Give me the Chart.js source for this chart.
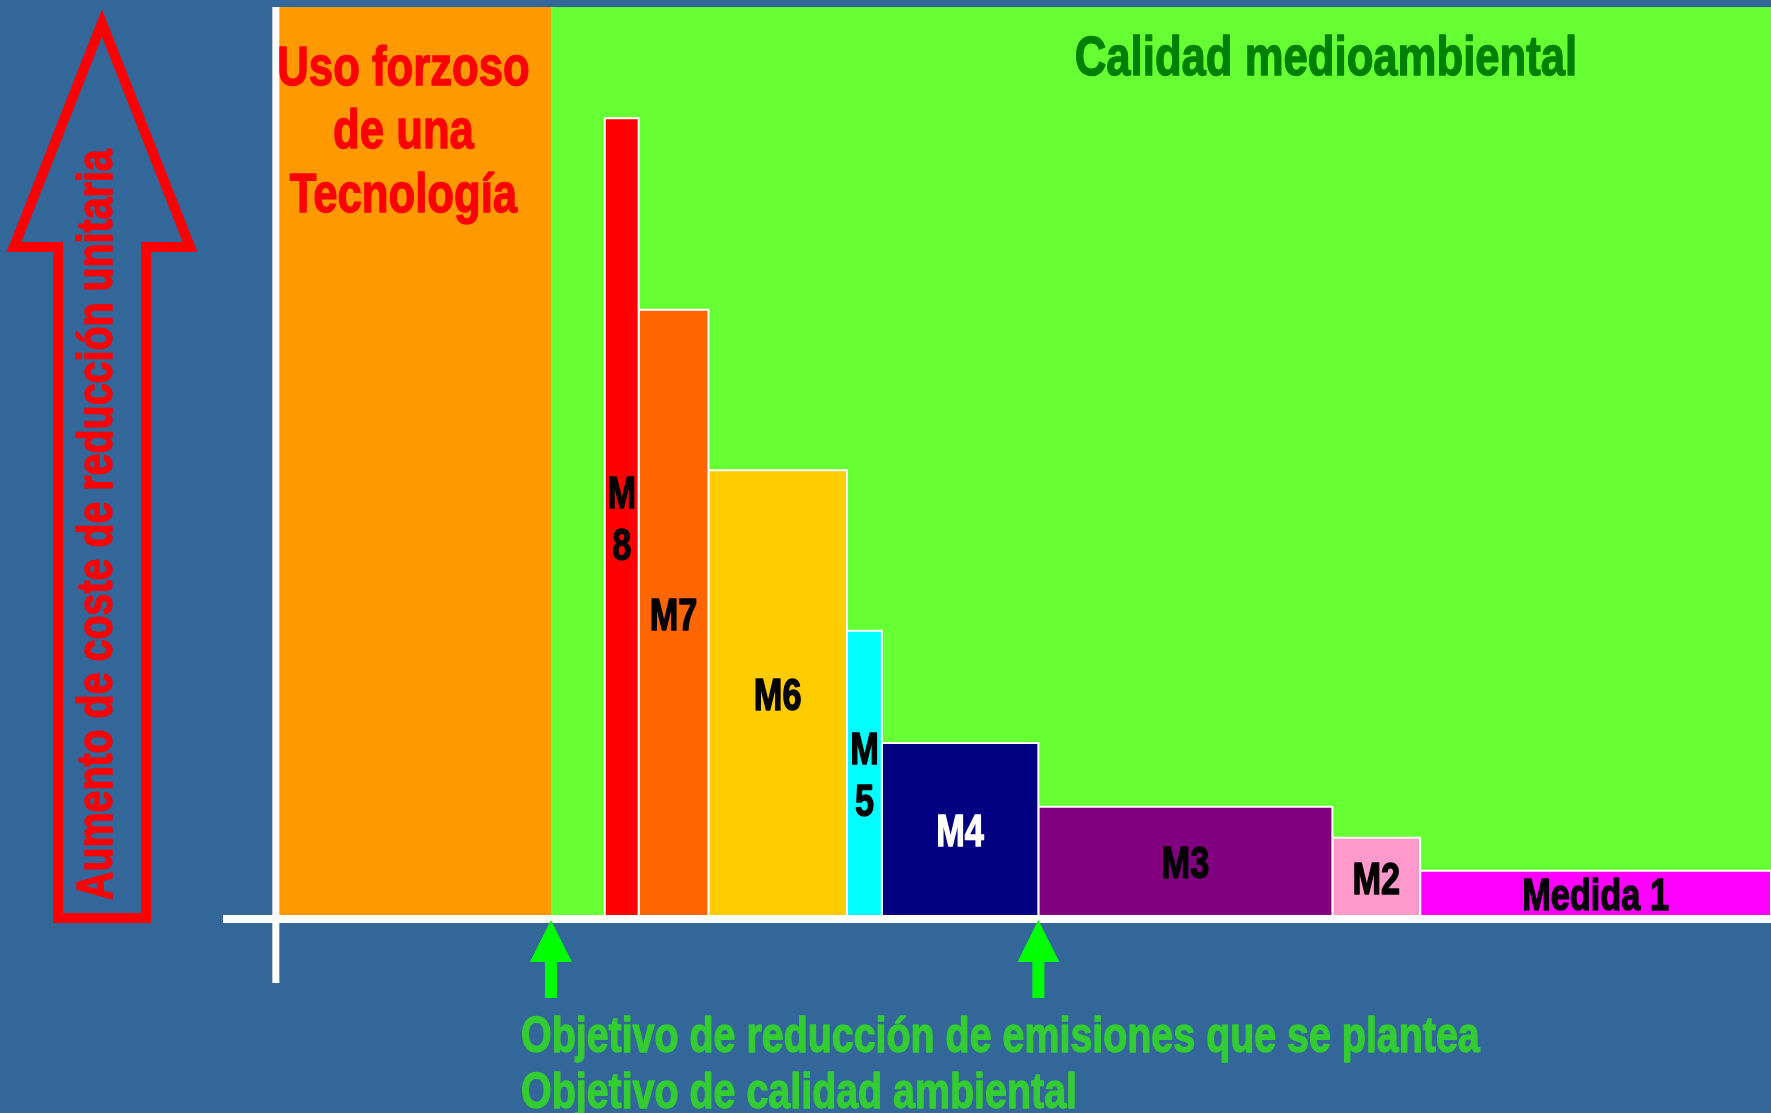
<!DOCTYPE html>
<html>
<head>
<meta charset="utf-8">
<script src="https://cdn.jsdelivr.net/npm/chart.js@4.4.1/dist/chart.umd.min.js"></script>
<style>
  html, body { margin: 0; padding: 0; background: #336699; }
  canvas { display: block; }
</style>
</head>
<body>
<canvas id="chart" width="1771" height="1113"></canvas>
<script>
// --- datos: medidas de izquierda a derecha ---
const measures = ['M8', 'M7', 'M6', 'M5', 'M4', 'M3', 'M2', 'Medida 1'];
const reductions = [3.4, 7.0, 13.9, 3.5, 15.7, 29.5, 8.8, 35.2];   // ancho (reducción de emisiones)
const unitCosts = [87.8, 66.8, 49.2, 31.6, 19.3, 12.3, 8.9, 5.3];  // alto (coste unitario)
const firstMeasureAt = 33.0;
const forcedTechEnd = 27.6;        // fin de la zona "Uso forzoso de una Tecnología"
const targets = [27.6, 76.5];      // objetivos señalados con flechas
const zoneTop = 100;
const xMin = -5.2, xMax = 150;

const MEASURE_COLORS = ['#FF0000', '#FF6600', '#FFCC00', '#00FFFF', '#000080', '#800080', '#FF99CC', '#FF00FF'];
const LABEL_COLORS = ['#000', '#000', '#000', '#000', '#FFF', '#000', '#000', '#000'];
const SQUEEZE = 0.78;
const FONT = '"Liberation Sans", Arial, sans-serif';

function narrowText(ctx, text, x, y, size, color, align) {
  ctx.save();
  ctx.translate(x, y);
  ctx.scale(SQUEEZE, 1);
  ctx.font = `bold ${size}px ${FONT}`;
  ctx.fillStyle = color;
  ctx.strokeStyle = color;
  ctx.lineWidth = 1.4;
  ctx.lineJoin = 'round';
  ctx.textAlign = align || 'center';
  ctx.textBaseline = 'alphabetic';
  ctx.fillText(text, 0, 0);
  ctx.strokeText(text, 0, 0);
  ctx.restore();
}

function rect(x0, x1, h) {
  return [{ x: x0, y: 0 }, { x: x0, y: h }, { x: x1, y: h }, { x: x1, y: 0 }];
}

// bloques de cada medida
let pos = firstMeasureAt;
const spans = [];
const measureSets = measures.map((m, i) => {
  const x0 = pos, x1 = pos + reductions[i];
  pos = x1;
  spans.push([x0, x1]);
  return {
    label: m,
    data: rect(x0, x1, unitCosts[i]),
    backgroundColor: MEASURE_COLORS[i],
    borderColor: '#FFFFFF',
    borderWidth: 2,
    fill: 'origin',
    pointRadius: 0,
    tension: 0,
    order: 0
  };
});

const zoneSets = [
  {
    label: 'Uso forzoso',
    data: rect(0, forcedTechEnd, zoneTop),
    backgroundColor: '#FF9900',
    borderColor: 'rgba(0,0,0,0)',
    borderWidth: 0,
    fill: 'origin',
    pointRadius: 0,
    order: 9
  },
  {
    label: 'Calidad medioambiental',
    data: rect(0, xMax, zoneTop),
    backgroundColor: '#66FF33',
    borderColor: 'rgba(0,0,0,0)',
    borderWidth: 0,
    fill: 'origin',
    pointRadius: 0,
    order: 10
  }
];

const decor = {
  id: 'decor',
  afterDatasetsDraw(chart) {
    const { ctx, chartArea, scales: { x, y } } = chart;
    const ax = x.getPixelForValue(0);
    const base = y.getPixelForValue(0);
    const top = y.getPixelForValue(zoneTop);
    ctx.save();

    // ejes en cruz
    ctx.fillStyle = '#FFFFFF';
    ctx.fillRect(ax - 3.5, top, 7, base + 64 - top);
    ctx.fillRect(chartArea.left - 1, base - 4, chartArea.right - chartArea.left + 1, 8);

    // etiquetas de las medidas
    ctx.font = `bold 44px ${FONT}`;
    measures.forEach((m, i) => {
      const px0 = x.getPixelForValue(spans[i][0]);
      const px1 = x.getPixelForValue(Math.min(spans[i][1], xMax));
      const cx = (px0 + px1) / 2;
      const mid = (y.getPixelForValue(unitCosts[i]) + base) / 2;
      const w = ctx.measureText(m).width * SQUEEZE;
      const lines = w > (px1 - px0) - 4 ? m.replace(/\s/g, '').split('') : [m];
      lines.forEach((t, k) => {
        const yy = mid + 15.5 + (k - (lines.length - 1) / 2) * 52;
        narrowText(ctx, t, cx, yy, 44, LABEL_COLORS[i], 'center');
      });
    });

    // flechas verdes de objetivos
    ctx.fillStyle = '#00FF00';
    targets.forEach(t => {
      const cx = x.getPixelForValue(t);
      ctx.beginPath();
      ctx.moveTo(cx, base + 1);
      ctx.lineTo(cx + 21, base + 43);
      ctx.lineTo(cx + 6, base + 43);
      ctx.lineTo(cx + 6, base + 79);
      ctx.lineTo(cx - 6, base + 79);
      ctx.lineTo(cx - 6, base + 43);
      ctx.lineTo(cx - 21, base + 43);
      ctx.closePath();
      ctx.fill();
    });

    // flecha roja del eje vertical
    ctx.strokeStyle = '#FF0000';
    ctx.lineWidth = 10;
    ctx.lineJoin = 'miter';
    ctx.beginPath();
    ctx.moveTo(102, 23);
    ctx.lineTo(190, 247);
    ctx.lineTo(146, 247);
    ctx.lineTo(146, base - 1);
    ctx.lineTo(58, base - 1);
    ctx.lineTo(58, 247);
    ctx.lineTo(14, 247);
    ctx.closePath();
    ctx.stroke();

    ctx.save();
    ctx.translate(112, 900);
    ctx.rotate(-Math.PI / 2);
    narrowText(ctx, 'Aumento de coste de reducción unitaria', 0, 0, 50.5, '#FF0000', 'left');
    ctx.restore();

    // textos de zonas
    narrowText(ctx, 'Calidad medioambiental', 1326, 75, 56, '#008000', 'center');
    narrowText(ctx, 'Uso forzoso', 403.5, 85, 56, '#FF0000', 'center');
    narrowText(ctx, 'de una', 403.5, 148, 56, '#FF0000', 'center');
    narrowText(ctx, 'Tecnología', 403.5, 212, 56, '#FF0000', 'center');

    // textos de objetivos
    narrowText(ctx, 'Objetivo de reducción de emisiones que se plantea', 521, 1052, 50.5, '#33CC33', 'left');
    narrowText(ctx, 'Objetivo de calidad ambiental', 521, 1108, 50.5, '#33CC33', 'left');

    ctx.restore();
  }
};

new Chart(document.getElementById('chart'), {
  type: 'line',
  data: { datasets: [...measureSets, ...zoneSets] },
  options: {
    animation: false,
    responsive: false,
    devicePixelRatio: 1,
    layout: { padding: { left: 224, right: 0, top: 7, bottom: 194 } },
    plugins: {
      legend: { display: false },
      tooltip: { enabled: false }
    },
    scales: {
      x: { type: 'linear', min: xMin, max: xMax, display: false },
      y: { type: 'linear', min: 0, max: zoneTop, display: false }
    }
  },
  plugins: [decor]
});
</script>
</body>
</html>
